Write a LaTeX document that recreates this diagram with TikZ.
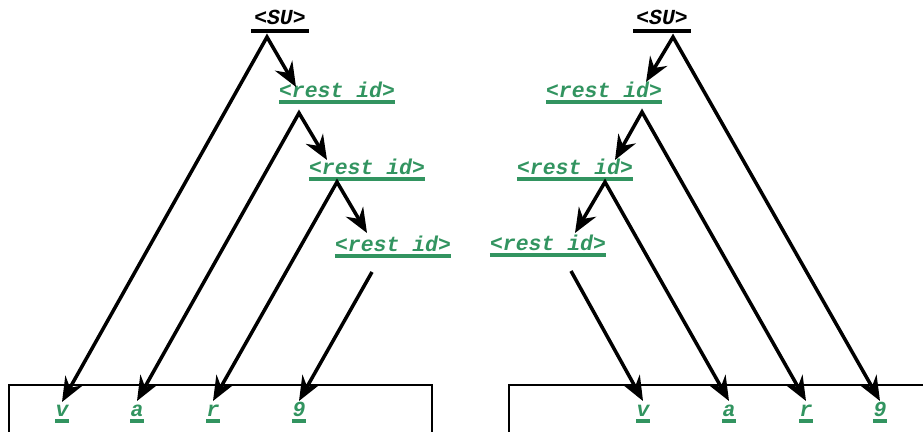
\documentclass[tikz,border=0pt]{standalone}
\usepackage{fontspec}
\usepackage{xcolor}
\usepackage{tikz}
\newfontfamily\codefont{Liberation Mono}
\definecolor{symgreen}{RGB}{50,148,96}
\tikzset{
  symbase/.style={font=\codefont\bfseries\itshape\fontsize{18.3}{20}\selectfont,
                  anchor=south, inner xsep=0pt, inner ysep=3.8pt, text depth=0pt},
  uline/.style={append after command={(\tikzlastnode.south west)
                  edge[draw=#1, line width=2.8pt] (\tikzlastnode.south east)}},
  sym/.style={symbase, text=symgreen, uline=symgreen},
  root/.style={symbase, text=black, inner xsep=2.5pt, inner ysep=5pt, uline=black},
  fork/.style={{Stealth[length=21pt, width=17pt, inset=7pt]}-{Stealth[length=21pt, width=17pt, inset=7pt]},
               line width=3pt, line join=miter},
  flow/.style={-{Stealth[length=21pt, width=17pt, inset=7pt]}, line width=3pt}
}
\usetikzlibrary{arrows.meta, calc}

\begin{document}
\begin{tikzpicture}[x=0.03cm, y=-0.03cm,
  tape/.style={draw, line width=0.9pt}
]
\useasboundingbox (0,0) rectangle (923,432);

% left: right-recursive derivation
\node[root] (suL) at (280,31) {<SU>};
\node[sym] (r1L) at (337,102) {<rest id>};
\node[sym] (r2L) at (367,179) {<rest id>};
\node[sym] (r3L) at (393,256) {<rest id>};

\draw[tape] (9,432) |- (432,385) -- (432,432);
\node[sym] (vL) at (62,421) {v};
\node[sym] (aL) at (137,421) {a};
\node[sym] (rL) at (213,421) {r};
\node[sym] (nL) at (299,421) {9};

\draw[fork] ($(vL.south)+(0,-19)$) -- ($(suL.south)+(-13,6)$) -- ($(r1L.south)+(-41,-15)$);
\draw[fork] ($(aL.south)+(0,-20)$) -- ($(r1L.south)+(-38,11)$) -- ($(r2L.south)+(-40,-19)$);
\draw[fork] ($(rL.south)+(0,-20)$) -- ($(r2L.south)+(-30,3)$) -- ($(r3L.south)+(-26,-23)$);
\draw[flow] ($(r3L.south)+(-21,16)$) -- ($(nL.south)+(0,-20)$);

% right: left-recursive derivation
\node[root] (suR) at (662,31) {<SU>};
\node[sym] (r1R) at (604,102) {<rest id>};
\node[sym] (r2R) at (575,179) {<rest id>};
\node[sym] (r3R) at (548,255) {<rest id>};

\draw[tape] (509,432) |- (923,385);
\node[sym] (vR) at (643,421) {v};
\node[sym] (aR) at (729,421) {a};
\node[sym] (rR) at (806,421) {r};
\node[sym] (nR) at (880,421) {9};

\draw[fork] ($(r1R.south)+(42,-20)$) -- ($(suR.south)+(11,6)$) -- ($(nR.south)+(0,-20)$);
\draw[fork] ($(r2R.south)+(40,-19)$) -- ($(r1R.south)+(38,10)$) -- ($(rR.south)+(0,-20)$);
\draw[fork] ($(r3R.south)+(27,-22)$) -- ($(r2R.south)+(30,3)$) -- ($(aR.south)+(0,-20)$);
\draw[flow] ($(r3R.south)+(23,16)$) -- ($(vR.south)+(0,-20)$);
\end{tikzpicture}
\end{document}
